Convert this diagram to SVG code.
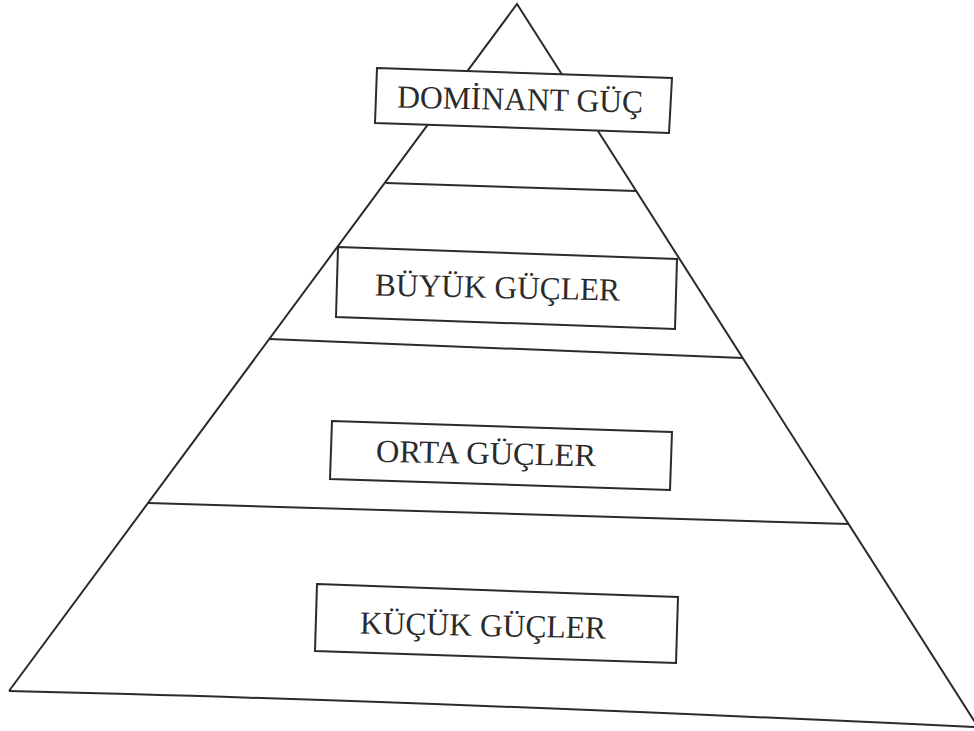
<svg xmlns="http://www.w3.org/2000/svg" width="974" height="731" viewBox="0 0 974 731">
<style>
.ln{fill:none;stroke:#2b2b2b;stroke-width:2;stroke-linejoin:miter}
.bx{fill:#ffffff;stroke:#2b2b2b;stroke-width:2}
.tx{font-family:"Liberation Serif","Times New Roman",serif;font-size:32px;fill:#2b2b2b}
</style>
<rect width="974" height="731" fill="#ffffff"/>
<g id="connectors">
<path class="ln" d="M9,691 L517,4 L978,727"/>
<path class="ln" d="M9,691 Q400,700 974,727"/>
<path class="ln" d="M386,183 L636,191"/>
<path class="ln" d="M269,339 L743,358"/>
<path class="ln" d="M148,503 L849,524"/>
</g>
<g id="dominant">
<polygon class="bx" points="377,68 672,78 669,133 375,123"/>
<text class="tx" x="397" y="110" textLength="246" lengthAdjust="spacingAndGlyphs" transform="rotate(1.2 520 105)">DOMİNANT GÜÇ</text>
</g>
<g id="buyuk">
<polygon class="bx" points="338,247 677,259 675,329 336,317"/>
<text class="tx" x="375" y="298" textLength="245" lengthAdjust="spacingAndGlyphs" transform="rotate(1.2 497 290)">BÜYÜK GÜÇLER</text>
</g>
<g id="orta">
<polygon class="bx" points="332,421 672,432 670,490 330,479"/>
<text class="tx" x="376" y="464" textLength="220" lengthAdjust="spacingAndGlyphs" transform="rotate(1.2 486 455)">ORTA GÜÇLER</text>
</g>
<g id="kucuk">
<polygon class="bx" points="317,584 678,597 676,663 315,651"/>
<text class="tx" x="360" y="636" textLength="246" lengthAdjust="spacingAndGlyphs" transform="rotate(1.2 483 627)">KÜÇÜK GÜÇLER</text>
</g>
</svg>
